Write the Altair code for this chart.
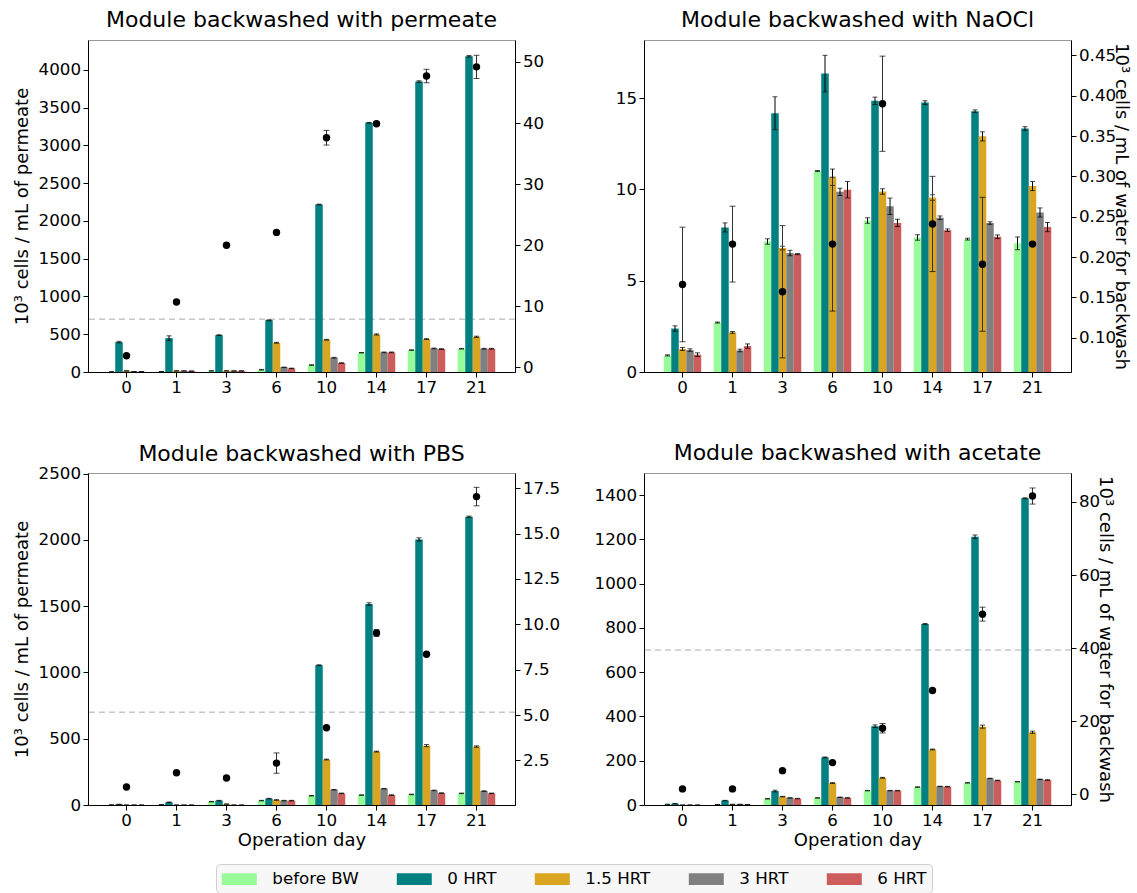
import altair as alt
import pandas as pd

days = ["0", "1", "3", "6", "10", "14", "17", "21"]
series = ["before BW", "0 HRT", "1.5 HRT", "3 HRT", "6 HRT"]
colors = ["#98FB98", "#008080", "#DAA520", "#808080", "#CD5C5C"]

# ---- Module backwashed with permeate ----
perm_before = [2, 5, 15, 30, 92, 255, 290, 308]
perm_0 = [396, 449, 488, 686, 2218, 3300, 3846, 4180]
perm_15 = [15, 15, 15, 387, 427, 497, 436, 466]
perm_3 = [5, 15, 15, 62, 189, 260, 312, 308]
perm_6 = [5, 12, 15, 48, 119, 260, 304, 308]
perm_before_err = [1, 1, 2, 4, 4, 3, 4, 4]
perm_0_err = [10, 30, 5, 5, 5, 5, 10, 10]
perm_15_err = [2, 2, 2, 5, 5, 8, 5, 8]
perm_3_err = [1, 1, 1, 3, 5, 5, 5, 5]
perm_6_err = [1, 1, 1, 3, 3, 5, 5, 5]
perm_bw = [1.9, 10.7, 20.0, 22.1, 37.6, 39.9, 47.7, 49.2]
perm_bw_err = [0, 0, 0, 0, 1.2, 0.3, 1.1, 1.9]

# ---- Module backwashed with NaOCl ----
naocl_before = [0.91, 2.71, 7.15, 11.01, 8.30, 7.37, 7.28, 7.05]
naocl_0 = [2.38, 7.92, 14.18, 16.35, 14.86, 14.76, 14.29, 13.34]
naocl_15 = [1.26, 2.17, 6.79, 10.67, 9.89, 9.56, 12.91, 10.19]
naocl_3 = [1.20, 1.18, 6.52, 9.87, 9.08, 8.45, 8.16, 8.74]
naocl_6 = [0.95, 1.42, 6.46, 9.99, 8.17, 7.77, 7.41, 7.94]
naocl_before_err = [0.03, 0.03, 0.15, 0.03, 0.15, 0.15, 0.05, 0.35]
naocl_0_err = [0.15, 0.25, 0.9, 1.0, 0.2, 0.1, 0.07, 0.1]
naocl_15_err = [0.08, 0.05, 0.1, 0.45, 0.15, 0.15, 0.25, 0.25]
naocl_3_err = [0.07, 0.07, 0.15, 0.2, 0.45, 0.1, 0.07, 0.25]
naocl_6_err = [0.1, 0.12, 0.03, 0.45, 0.2, 0.07, 0.1, 0.25]
naocl_bw = [0.166, 0.216, 0.157, 0.216, 0.390, 0.241, 0.191, 0.216]
naocl_bw_err = [0.071, 0.047, 0.082, 0.083, 0.059, 0.059, 0.083, 0.0]

# ---- Module backwashed with PBS ----
pbs_before = [1, 3, 25, 33, 70, 75, 80, 88]
pbs_0 = [5, 20, 33, 48, 1055, 1516, 2004, 2175]
pbs_15 = [0, 0, 7, 38, 343, 403, 448, 441]
pbs_3 = [0, 0, 0, 33, 115, 123, 110, 105]
pbs_6 = [0, 0, 0, 33, 88, 75, 90, 88]
pbs_before_err = [0, 1, 2, 2, 2, 2, 2, 2]
pbs_0_err = [1, 3, 2, 2, 3, 10, 12, 5]
pbs_15_err = [0, 0, 1, 2, 3, 3, 8, 5]
pbs_3_err = [0, 0, 0, 2, 2, 2, 2, 2]
pbs_6_err = [0, 0, 0, 2, 2, 2, 2, 2]
pbs_bw = [1.03, 1.82, 1.53, 2.35, 4.30, 9.52, 8.35, 17.04]
pbs_bw_err = [0, 0, 0, 0.56, 0, 0.18, 0, 0.51]

# ---- Module backwashed with acetate ----
acet_before = [3, 2, 28, 32, 65, 81, 100, 105]
acet_0 = [6, 20, 63, 215, 356, 818, 1212, 1386]
acet_15 = [0, 3, 38, 99, 123, 251, 354, 329]
acet_3 = [0, 3, 32, 35, 65, 84, 120, 116]
acet_6 = [0, 2, 29, 32, 65, 83, 111, 113]
acet_before_err = [0, 0, 1, 1, 1, 1, 1, 1]
acet_0_err = [1, 1, 4, 2, 6, 2, 8, 2]
acet_15_err = [0, 0, 1, 2, 2, 2, 7, 5]
acet_3_err = [0, 0, 1, 1, 1, 1, 1, 1]
acet_6_err = [0, 0, 1, 1, 1, 1, 1, 1]
acet_bw = [1.5, 1.5, 6.5, 8.7, 18.1, 28.4, 49.3, 81.6]
acet_bw_err = [0, 0, 0, 0, 1.3, 0, 1.9, 2.2]

LEFT_TITLE = "10³ cells / mL of permeate"
RIGHT_TITLE = "10³ cells / mL of water for backwash"
FONT = "DejaVu Sans"


def panel(title, bar_vals, bar_errs, bw_vals, bw_errs,
          left_dom, left_ticks, right_dom, right_ticks, right_fmt,
          show_left_title, show_right_title, show_x_title, dashed, title_offset):
    rows = []
    for s, vals, errs in zip(series, bar_vals, bar_errs):
        for d, v, e in zip(days, vals, errs):
            rows.append({"day": d, "series": s, "value": v, "lo": v - e, "hi": v + e})
    bars_df = pd.DataFrame(rows)
    pts_df = pd.DataFrame({
        "day": days,
        "series": ["1.5 HRT"] * len(days),
        "value": bw_vals,
        "lo": [v - e for v, e in zip(bw_vals, bw_errs)],
        "hi": [v + e for v, e in zip(bw_vals, bw_errs)],
    })

    x_axis = alt.Axis(labelAngle=0, title="Operation day" if show_x_title else None,
                      titlePadding=2)
    x = alt.X("day:N", sort=days,
              scale=alt.Scale(paddingInner=0.25, paddingOuter=0.395), axis=x_axis)
    xo = alt.XOffset("series:N", sort=series,
                     scale=alt.Scale(paddingInner=0, paddingOuter=0))

    yl_scale = alt.Scale(domain=left_dom, nice=False, zero=False)
    yl_axis = alt.Axis(values=left_ticks, orient="left", format="d",
                       title=LEFT_TITLE if show_left_title else None, titlePadding=7)
    yr_scale = alt.Scale(domain=right_dom, nice=False, zero=False)
    yr_axis = alt.Axis(values=right_ticks, orient="right", format=right_fmt,
                       title=RIGHT_TITLE if show_right_title else None, titlePadding=-4)

    base = alt.Chart(bars_df)
    left_layers = []
    if dashed:
        left_layers.append(
            alt.Chart(pd.DataFrame({"v": [700]})).mark_rule(
                strokeDash=[6, 4], color="#c8c8c8", strokeWidth=1.5
            ).encode(y=alt.Y("v:Q", scale=yl_scale, axis=yl_axis))
        )
    left_layers += [
        base.mark_bar().encode(
            x=x, xOffset=xo,
            y=alt.Y("value:Q", scale=yl_scale, axis=yl_axis),
            color=alt.Color("series:N", sort=series,
                            scale=alt.Scale(domain=series, range=colors),
                            legend=alt.Legend(title=None)),
        ),
        base.mark_rule(color="black", strokeWidth=1).encode(
            x=x, xOffset=xo,
            y=alt.Y("lo:Q", scale=yl_scale, axis=yl_axis), y2="hi:Q"),
        base.mark_tick(color="black", thickness=1, size=5, orient="horizontal").encode(
            x=x, xOffset=xo, y=alt.Y("hi:Q", scale=yl_scale, axis=yl_axis)),
        base.mark_tick(color="black", thickness=1, size=5, orient="horizontal").encode(
            x=x, xOffset=xo, y=alt.Y("lo:Q", scale=yl_scale, axis=yl_axis)),
    ]
    left = alt.layer(*left_layers)

    pbase = alt.Chart(pts_df)
    right = alt.layer(
        pbase.mark_rule(color="#333333", strokeWidth=1).encode(
            x=x, xOffset=xo,
            y=alt.Y("lo:Q", scale=yr_scale, axis=yr_axis), y2="hi:Q"),
        pbase.mark_tick(color="black", thickness=1, size=6, orient="horizontal").encode(
            x=x, xOffset=xo, y=alt.Y("hi:Q", scale=yr_scale, axis=yr_axis)),
        pbase.mark_tick(color="black", thickness=1, size=6, orient="horizontal").encode(
            x=x, xOffset=xo, y=alt.Y("lo:Q", scale=yr_scale, axis=yr_axis)),
        pbase.mark_circle(size=55, color="black", opacity=1).encode(
            x=x, xOffset=xo, y=alt.Y("value:Q", scale=yr_scale, axis=yr_axis)),
    )
    return alt.layer(left, right).resolve_scale(y="independent").properties(
        width=427, height=332,
        title=alt.TitleParams(title, fontSize=22, font=FONT, fontWeight="normal",
                              color="black", offset=title_offset, anchor="middle",
                              frame="group"),
    )


p1 = panel("Module backwashed with permeate",
           [perm_before, perm_0, perm_15, perm_3, perm_6],
           [perm_before_err, perm_0_err, perm_15_err, perm_3_err, perm_6_err],
           perm_bw, perm_bw_err,
           [0, 4396], list(range(0, 4001, 500)), [-0.76, 53.6], [0, 10, 20, 30, 40, 50], "d",
           True, False, False, True, 8)
p2 = panel("Module backwashed with NaOCl",
           [naocl_before, naocl_0, naocl_15, naocl_3, naocl_6],
           [naocl_before_err, naocl_0_err, naocl_15_err, naocl_3_err, naocl_6_err],
           naocl_bw, naocl_bw_err,
           [0, 18.19], [0, 5, 10, 15], [0.0575, 0.469],
           [0.10, 0.15, 0.20, 0.25, 0.30, 0.35, 0.40, 0.45], ".2f",
           False, True, False, False, 8)
p3 = panel("Module backwashed with PBS",
           [pbs_before, pbs_0, pbs_15, pbs_3, pbs_6],
           [pbs_before_err, pbs_0_err, pbs_15_err, pbs_3_err, pbs_6_err],
           pbs_bw, pbs_bw_err,
           [0, 2505], list(range(0, 2501, 500)), [0.04, 18.34],
           [2.5, 5.0, 7.5, 10.0, 12.5, 15.0, 17.5], ".1f",
           True, False, True, True, 0)
p4 = panel("Module backwashed with acetate",
           [acet_before, acet_0, acet_15, acet_3, acet_6],
           [acet_before_err, acet_0_err, acet_15_err, acet_3_err, acet_6_err],
           acet_bw, acet_bw_err,
           [0, 1500], list(range(0, 1401, 200)), [-2.9, 87.9], [0, 20, 40, 60, 80], "d",
           False, True, True, True, 8)

chart = alt.concat(p1, p2, p3, p4, columns=2, spacing={"row": 101, "column": 129},
                   bounds="flush").resolve_scale(color="shared").properties(
    padding={"left": 12, "top": 8, "right": 4, "bottom": 0},
    background="white",
).configure_axis(
    labelFont=FONT, labelFontSize=16.7, titleFont=FONT, titleFontSize=18,
    titleFontWeight="normal", labelColor="black", titleColor="black",
    domainColor="black", tickColor="black", tickSize=5, labelPadding=2.5, grid=False,
).configure_view(
    stroke="#999999", strokeWidth=1
).configure_legend(
    orient="none", legendX=128, legendY=824, direction="horizontal", columns=5,
    labelFont=FONT, labelFontSize=16.7, labelColor="black", labelOffset=23,
    symbolType="M-1.75,-0.585H1.75V0.585H-1.75Z", symbolSize=400, symbolOffset=8.3,
    symbolStrokeWidth=0, symbolOpacity=1, columnPadding=37, padding=5,
    fillColor="#f7f7f7", strokeColor="#d0d0d0", cornerRadius=4,
)

chart.save("out.html", embed_options={"renderer": "svg", "actions": False})
